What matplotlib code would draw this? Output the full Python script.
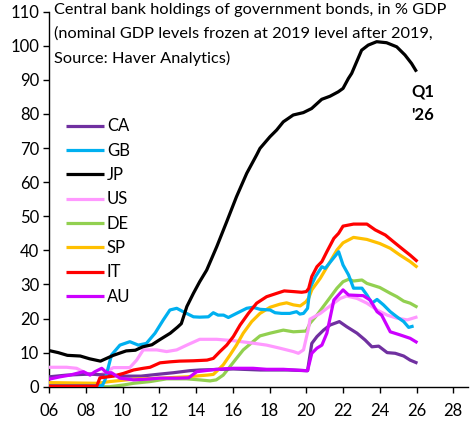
import matplotlib
matplotlib.use("Agg")
import matplotlib.pyplot as plt

plt.rcParams['font.family'] = ['Lato', 'DejaVu Sans']

# ---- data (year, % GDP) ----
jp_x = [2006.0, 2006.5, 2007.0, 2007.7, 2008.2, 2008.8, 2009.5, 2010.2, 2010.7, 2011.1, 2011.6, 2012.0,
        2012.6, 2013.0, 2013.2, 2013.5, 2013.86, 2014.2, 2014.58, 2015.13, 2015.67, 2016.2, 2016.76,
        2017.3, 2017.48, 2018.02, 2018.39, 2018.75, 2019.29, 2019.84, 2020.29, 2020.84, 2021.29, 2021.74,
        2022.0, 2022.29, 2022.47, 2022.74, 2023.01, 2023.37, 2023.83, 2024.37, 2024.92, 2025.37, 2025.73, 2026.0]
jp_y = [10.6, 10.0, 9.2, 9.0, 8.2, 7.5, 9.2, 10.5, 10.7, 11.7, 12.3, 13.7,
        15.7, 17.5, 18.5, 23.5, 27.4, 30.8, 34.2, 41.1, 48.4, 55.7, 62.6,
        68.0, 69.9, 73.3, 75.3, 77.7, 79.7, 80.4, 81.6, 84.3, 85.2, 86.5,
        87.5, 90.4, 91.9, 95.3, 98.7, 100.2, 101.2, 100.9, 99.7, 97.3, 94.8, 92.4]

gb_x = [2006.0, 2008.9, 2009.05, 2009.4, 2009.86, 2010.4, 2010.86, 2011.3, 2011.77, 2012.22, 2012.58,
        2012.95, 2013.3, 2013.86, 2014.2, 2014.67, 2014.94, 2015.2, 2015.5, 2015.76, 2016.2, 2016.76,
        2017.1, 2017.48, 2018.03, 2018.3, 2018.66, 2019.1, 2019.47, 2019.65, 2019.85, 2020.07, 2020.2,
        2020.5, 2020.85, 2021.03, 2021.4, 2021.76, 2022.0, 2022.3, 2022.57, 2023.03, 2023.3, 2023.57,
        2023.85, 2024.2, 2024.57, 2024.93, 2025.3, 2025.57, 2025.84]
gb_y = [0.3, 0.3, 2.0, 9.3, 12.2, 13.2, 12.2, 12.7, 15.7, 19.6, 22.5,
        23.0, 22.0, 20.5, 20.4, 20.5, 21.7, 21.0, 21.0, 20.3, 21.5, 23.0,
        23.3, 22.7, 22.5, 21.7, 21.5, 21.5, 22.0, 21.3, 21.5, 23.0, 28.9,
        32.3, 35.2, 34.7, 37.2, 39.6, 35.7, 32.8, 28.9, 28.9, 26.9, 24.5,
        25.6, 24.0, 22.0, 20.5, 19.1, 17.4, 17.8]

us_x = [2006.0, 2006.96, 2007.5, 2008.05, 2008.8, 2009.5, 2010.4, 2010.77, 2011.13, 2011.86, 2012.4,
        2012.95, 2013.5, 2014.2, 2015.13, 2016.03, 2016.93, 2017.84, 2018.56, 2019.3, 2019.57, 2019.85,
        2020.12, 2020.2, 2020.76, 2021.3, 2021.85, 2022.2, 2022.76, 2023.3, 2023.85, 2024.4, 2024.93,
        2025.5, 2026.05]
us_y = [5.7, 5.7, 5.4, 3.9, 3.4, 5.6, 5.6, 7.8, 10.8, 10.8, 10.3,
        10.8, 12.2, 13.9, 13.9, 13.5, 12.9, 12.2, 11.3, 10.3, 9.8, 10.8,
        17.1, 19.8, 21.5, 23.7, 25.9, 26.6, 25.9, 24.5, 22.5, 21.0, 20.1,
        19.6, 20.5]

de_x = [2008.7, 2009.3, 2010.05, 2010.6, 2011.5, 2012.4, 2013.5, 2014.2, 2014.76, 2015.1, 2015.48,
        2015.85, 2016.2, 2016.57, 2017.03, 2017.48, 2018.03, 2018.75, 2019.3, 2019.92, 2020.0, 2020.2,
        2020.58, 2021.12, 2021.67, 2022.0, 2022.3, 2022.57, 2023.03, 2023.3, 2024.0, 2024.57, 2024.93,
        2025.3, 2025.65, 2026.05]
de_y = [0.0, 0.0, 0.5, 1.0, 1.5, 2.3, 2.3, 2.0, 1.7, 2.0, 3.4,
        5.9, 8.3, 10.8, 12.9, 14.9, 15.7, 16.6, 16.1, 16.3, 16.3, 18.6,
        21.0, 24.9, 28.9, 30.8, 31.5, 31.0, 31.3, 30.3, 29.1, 27.4, 26.4,
        25.1, 24.5, 23.3]

sp_x = [2006.0, 2008.6, 2009.3, 2010.6, 2012.04, 2013.5, 2014.6, 2014.94, 2015.1, 2015.48, 2015.85,
        2016.2, 2016.57, 2017.03, 2017.48, 2018.03, 2018.56, 2018.93, 2019.3, 2019.67, 2019.98, 2020.13,
        2020.3, 2020.76, 2021.3, 2021.67, 2022.0, 2022.57, 2023.3, 2024.0, 2024.57, 2025.1, 2025.65, 2026.05]
sp_y = [1.2, 1.0, 1.5, 2.2, 2.5, 2.9, 3.4, 3.6, 4.4, 6.4, 9.3,
        12.2, 15.7, 19.1, 21.5, 23.3, 24.2, 24.6, 24.0, 23.7, 24.9, 26.0,
        28.4, 31.8, 36.7, 40.1, 42.2, 43.8, 43.2, 42.0, 40.6, 38.6, 36.7, 35.0]

it_x = [2006.0, 2008.6, 2008.77, 2009.5, 2010.05, 2010.6, 2011.13, 2011.5, 2012.04, 2012.6, 2013.1,
        2013.86, 2014.6, 2014.94, 2015.3, 2015.67, 2016.03, 2016.4, 2016.85, 2017.3, 2017.84, 2018.4,
        2018.8, 2019.3, 2019.75, 2020.0, 2020.13, 2020.3, 2020.58, 2020.85, 2021.12, 2021.5, 2021.76,
        2022.0, 2022.57, 2023.3, 2023.75, 2024.3, 2024.75, 2025.3, 2025.65, 2026.05]
it_y = [0.2, 0.2, 2.6, 3.1, 3.9, 4.9, 5.4, 5.7, 7.0, 7.3, 7.5,
        7.6, 7.8, 8.3, 10.3, 12.2, 14.7, 18.1, 21.5, 24.5, 26.4, 27.4,
        28.1, 27.9, 27.7, 27.9, 28.8, 32.3, 35.2, 36.7, 39.6, 43.5, 45.0,
        47.1, 47.7, 47.7, 46.0, 44.5, 42.5, 40.1, 38.6, 36.7]

au_x = [2006.0, 2006.6, 2007.14, 2007.87, 2008.23, 2008.5, 2008.87, 2009.14, 2009.4, 2009.86, 2010.6,
        2011.3, 2012.0, 2012.95, 2013.6, 2014.04, 2015.1, 2016.03, 2017.1, 2017.84, 2018.75, 2020.0,
        2020.07, 2020.3, 2020.58, 2020.85, 2021.12, 2021.5, 2022.0, 2022.3, 2023.1, 2023.48, 2023.85,
        2024.1, 2024.57, 2025.1, 2025.65, 2026.05]
au_y = [2.2, 2.9, 3.4, 4.4, 3.4, 4.4, 5.4, 4.1, 4.1, 2.5, 2.0,
        2.2, 2.5, 2.5, 2.6, 4.4, 5.1, 5.4, 5.4, 5.1, 5.1, 4.7,
        4.7, 9.8, 11.3, 12.2, 15.7, 25.4, 28.4, 26.9, 26.7, 25.4, 22.0,
        21.0, 16.1, 15.2, 14.2, 12.9]

ca_x = [2006.0, 2006.96, 2008.23, 2009.14, 2010.05, 2011.0, 2011.86, 2012.77, 2013.67, 2014.2, 2016.03,
        2017.5, 2019.0, 2020.0, 2020.07, 2020.3, 2020.58, 2020.94, 2021.3, 2021.8, 2022.2, 2022.76,
        2023.2, 2023.57, 2023.94, 2024.4, 2024.84, 2025.3, 2025.65, 2026.05]
ca_y = [2.9, 3.4, 3.7, 3.4, 3.1, 3.1, 3.6, 4.1, 4.7, 4.9, 5.2,
        4.9, 4.9, 4.7, 4.7, 12.7, 14.7, 16.6, 18.1, 19.1, 17.6, 15.7,
        13.7, 11.7, 11.9, 10.0, 9.8, 9.0, 7.8, 6.9]

labels = ['CA', 'GB', 'JP', 'US', 'DE', 'SP', 'IT', 'AU']
colors = ['#7030A0', '#00B0F0', '#000000', '#FF99FF', '#92D050', '#FFC000', '#FF0000', '#CC00FF']
series = [(ca_x, ca_y), (gb_x, gb_y), (jp_x, jp_y), (us_x, us_y), (de_x, de_y),
          (sp_x, sp_y), (it_x, it_y), (au_x, au_y)]
draw_order = ['DE', 'US', 'CA', 'SP', 'GB', 'IT', 'AU', 'JP']

xticks = [2006, 2008, 2010, 2012, 2014, 2016, 2018, 2020, 2022, 2024, 2026, 2028]
xticklabels = ['06', '08', '10', '12', '14', '16', '18', '20', '22', '24', '26', '28']
yticks = list(range(0, 111, 10))

fig = plt.figure(figsize=(4.76, 4.21), dpi=100)
ax = fig.add_axes([49/476, 1 - 386.7/421, (468 - 49)/476, (386.7 - 11.7)/421])

handles = {}
for lab, col, (xs, ys) in zip(labels, colors, series):
    z = 2 + draw_order.index(lab)
    h, = ax.plot(xs, ys, color=col, lw=2.3, zorder=z, solid_joinstyle='round', solid_capstyle='butt')
    handles[lab] = h

ax.set_xlim(2006, 2028.8)
ax.set_ylim(0, 110)
ax.set_xticks(xticks)
ax.set_xticklabels(xticklabels)
ax.set_yticks(yticks)
for s in ['top', 'right']:
    ax.spines[s].set_visible(False)
for s in ['left', 'bottom']:
    ax.spines[s].set_linewidth(1.0)
ax.tick_params(axis='both', direction='out', length=4, width=1, labelsize=12, colors='black')
ax.tick_params(axis='x', pad=8)
ax.tick_params(axis='y', pad=3)

leg = ax.legend([handles[l] for l in labels], labels, loc='upper left',
                bbox_to_anchor=(0.025, 0.733), frameon=False, fontsize=12,
                handlelength=2.3, handletextpad=0.15, labelspacing=0.5, borderaxespad=0)

fig.text(54/476, 1 - 3/421,
         "Central bank holdings of government bonds, in % GDP\n"
         "(nominal GDP levels frozen at 2019 level after 2019,\n"
         "Source: Haver Analytics)",
         ha='left', va='top', fontsize=11.8, linespacing=1.85)

ax.text(2026.35, 89, "Q1\n'26", ha='center', va='top', fontsize=12, fontweight='bold',
        linespacing=1.6)

fig.savefig('out.png', dpi=100)
